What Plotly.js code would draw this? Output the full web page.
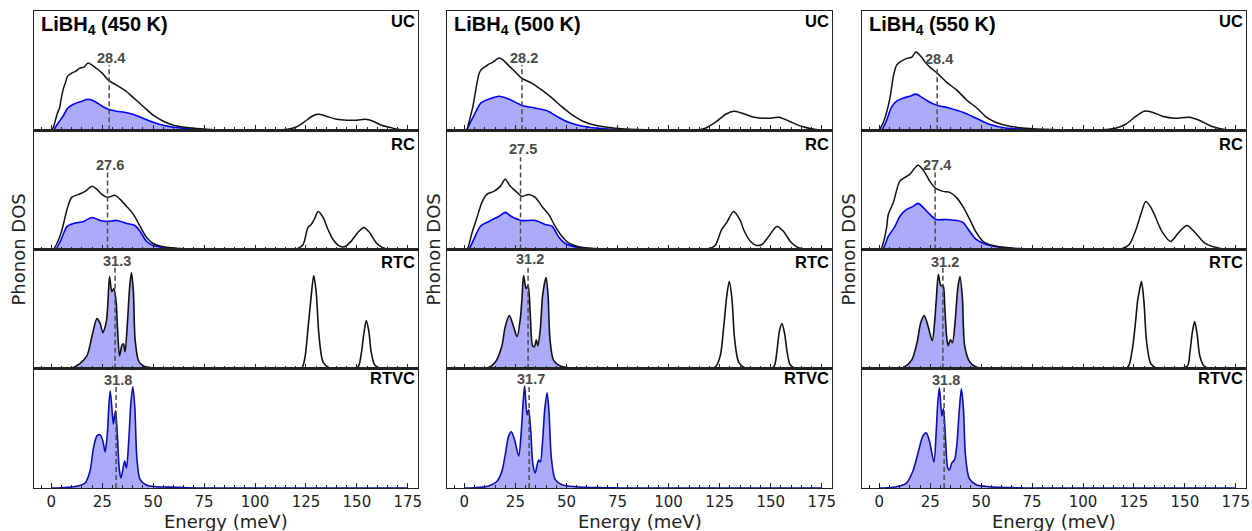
<!DOCTYPE html>
<html><head><meta charset="utf-8">
<script src="https://cdn.plot.ly/plotly-3.0.1.min.js"></script>
<style>html,body{margin:0;padding:0;background:#fff}</style>
</head><body><div id="chart" style="width:1252px;height:531px"></div>
<script>
// ---------------- DATA (Energy in meV, DOS in arbitrary units) ----------------
const temperatures = ['450', '500', '550'];
const models = ['UC', 'RC', 'RTC', 'RTVC'];
const tickVals = [0, 25, 50, 75, 100, 125, 150, 175];

// mean energies (dashed lines)
const meanUC   = [28.4, 28.2, 28.4];
const meanRC   = [27.6, 27.5, 27.4];
const meanRTC  = [31.3, 31.2, 31.2];
const meanRTVC = [31.8, 31.7, 31.8];

// ---- UC ----
const uc450_E   = [0,1,2,3,4,5,6,7,8,10,12,14,16,18,20,22,25,28,32,36,40,45,50,55,60,70,80,95,110,116,120,124,128,131,135,140,145,150,154,158,162,166,170,175];
const uc450_tot = [0,0.03,0.10,0.17,0.22,0.33,0.42,0.48,0.54,0.57,0.59,0.62,0.63,0.67,0.65,0.62,0.57,0.50,0.45,0.40,0.33,0.24,0.15,0.09,0.05,0.02,0.005,0,0,0.01,0.03,0.08,0.14,0.16,0.14,0.11,0.10,0.10,0.11,0.09,0.05,0.03,0.01,0];
const uc450_bE  = [0,1,2,4,6,8,10,12,15,18,20,22,25,28,32,36,40,45,50,55,60,70,80,95,175];
const uc450_b   = [0,0,0.03,0.09,0.15,0.22,0.25,0.27,0.29,0.31,0.30,0.28,0.24,0.21,0.19,0.18,0.16,0.12,0.08,0.05,0.03,0.01,0.003,0,0];

const uc500_E   = [0,1,2,3,4,5,6,7,8,10,12,14,17,19,21,23,25,28,33,38,43,48,53,58,64,74,85,100,115,118,123,128,132,136,142,149,154,159,165,172,176];
const uc500_tot = [0,0,0.06,0.14,0.22,0.33,0.45,0.55,0.60,0.63,0.66,0.68,0.72,0.70,0.66,0.62,0.58,0.52,0.47,0.40,0.32,0.23,0.15,0.09,0.05,0.02,0.007,0,0.005,0.02,0.08,0.16,0.19,0.17,0.13,0.12,0.13,0.09,0.04,0.007,0];
const uc500_bE  = [0,1,2,4,6,8,12,17,22,28,35,41,46,51,58,67,80,100,175];
const uc500_b   = [0,0,0.04,0.12,0.20,0.27,0.31,0.34,0.31,0.25,0.22,0.19,0.13,0.08,0.04,0.017,0.003,0,0];

const uc550_E   = [0,2,3.6,5,6,7,8.5,10,11.7,14,16,18,20.7,22.5,24.8,28.4,33,38,43,48,52.5,57,64,74,90,105,116,121,126,130,134,139,145,152,157,163,171,175];
const uc550_tot = [0,0.08,0.18,0.30,0.42,0.55,0.65,0.68,0.70,0.72,0.73,0.78,0.73,0.68,0.63,0.57,0.48,0.40,0.30,0.22,0.13,0.08,0.04,0.017,0.003,0,0.02,0.06,0.14,0.19,0.18,0.14,0.12,0.13,0.10,0.04,0.003,0];
const uc550_bE  = [0,1,2,3.6,6,8.5,11.7,15,18,21.5,24.8,28.4,34.6,41,47.6,54,62,74,90,175];
const uc550_b   = [0,0,0.03,0.10,0.23,0.29,0.32,0.34,0.36,0.32,0.28,0.25,0.22,0.18,0.12,0.06,0.023,0.007,0,0];

// ---- RC ----
const rc450_E   = [0,1,2.5,3.6,5,6.5,7.7,10,13.4,16.6,20,22.4,24.8,27.6,31.3,33.8,37,40.3,43.6,46.8,50,55,65,80,100,118,121,123.6,126,127.6,129.3,131,133.4,135.8,138.3,141.5,144,147.2,150.5,153.4,156.2,159.5,162.7,167,175];
const rc450_tot = [0,0,0.05,0.10,0.18,0.30,0.40,0.52,0.55,0.58,0.63,0.60,0.55,0.52,0.54,0.50,0.43,0.35,0.23,0.12,0.06,0.027,0.007,0,0,0,0.01,0.05,0.22,0.25,0.31,0.38,0.32,0.20,0.10,0.033,0.027,0.083,0.17,0.22,0.17,0.067,0.017,0,0];
const rc450_bE  = [0,2,4.4,6,7.7,11,15.8,20,24,27.6,32,37,41,43.6,46.8,50,56.6,66,80,175];
const rc450_b   = [0,0,0.08,0.16,0.23,0.26,0.28,0.32,0.29,0.28,0.29,0.26,0.24,0.18,0.08,0.04,0.017,0.003,0,0];

const rc500_E   = [0,1.3,3.8,6.2,8.6,11,14.4,17.6,20,22.5,25.8,28.2,31.5,34.7,38,41.3,44.5,47.8,51,56,65.7,77,100,119.6,122.8,126,128.5,131.8,135.1,136.7,140,143.2,145.7,149,153,156.3,159.5,163.6,170,175];
const rc500_tot = [0,0,0.17,0.32,0.47,0.55,0.58,0.63,0.70,0.63,0.57,0.53,0.55,0.52,0.43,0.35,0.23,0.13,0.067,0.027,0.007,0,0,0.007,0.04,0.20,0.27,0.38,0.29,0.20,0.083,0.04,0.05,0.13,0.23,0.18,0.083,0.017,0,0];
const rc500_bE  = [0,2,4.6,7.8,12,16.8,20,23,28,34.7,39.6,43,46,49.4,56,66,80,175];
const rc500_b   = [0,0,0.10,0.23,0.28,0.33,0.37,0.33,0.29,0.29,0.25,0.23,0.13,0.06,0.02,0.003,0,0];

const rc550_E   = [0,0.7,2,3.6,4.4,6.9,10,12.6,15,19,22.3,24.8,27.7,31.3,34.6,37.8,41,44.4,47.6,51,55.8,65.6,82,100,119,122.7,126,128.5,130.8,133,135,139,143,147,151,155,160,168,175];
const rc550_tot = [0,0,0.07,0.22,0.35,0.47,0.68,0.72,0.75,0.84,0.77,0.68,0.61,0.58,0.57,0.52,0.43,0.30,0.17,0.08,0.04,0.013,0,0,0.007,0.05,0.20,0.36,0.48,0.43,0.35,0.17,0.08,0.17,0.24,0.17,0.06,0.007,0];
const rc550_bE  = [0,1.6,4.4,7.7,10,13.4,16.6,19,21.5,24.8,28,33,37.8,41,44.4,47.6,52.5,62,74,85,175];
const rc550_b   = [0,0,0.13,0.23,0.33,0.40,0.43,0.46,0.42,0.35,0.30,0.30,0.29,0.27,0.18,0.10,0.05,0.017,0.003,0,0];

// ---- RTC ----
const rtc450_E   = [0,5,10,14,17.5,20,22.4,24,25.3,27,27.7,28.6,29.7,30.7,31.8,32.5,33.5,34.6,35.4,36.2,37.4,38.4,39.3,40.3,41.1,42.8,45.2,50,56.6,80,110,122.8,124.4,126,127.6,128.8,130,131.4,133.4,136.6,145,150.5,152,153.3,154.6,155.9,157,158.7,161,168,175];
const rtc450_tot = [0,0,0.007,0.05,0.13,0.33,0.50,0.45,0.36,0.47,0.63,0.92,0.77,0.80,0.67,0.40,0.13,0.23,0.25,0.17,0.47,0.80,0.96,0.77,0.30,0.08,0.027,0.007,0,0,0,0.007,0.10,0.40,0.73,0.93,0.77,0.33,0.067,0.007,0,0.017,0.13,0.33,0.48,0.37,0.17,0.04,0.007,0,0];

const rtc500_E   = [0,5,11.9,15.2,18.4,20,22,24.1,25.8,27.4,28.2,29,30.2,31.2,32.3,33.4,34.3,35.2,36,37.2,38.3,40,41,41.9,43.7,47,52.7,60.8,80,110,122.8,125.3,126.9,128.5,129.7,131,132.3,134.3,137.5,145,151.4,153,154.2,155.5,156.8,158,159.5,162,168,175];
const rtc500_tot = [0,0,0.013,0.067,0.23,0.42,0.53,0.42,0.32,0.50,0.70,0.93,0.80,0.83,0.53,0.23,0.22,0.29,0.23,0.40,0.73,0.91,0.73,0.30,0.083,0.027,0.007,0,0,0,0.017,0.13,0.40,0.73,0.87,0.70,0.30,0.067,0.007,0,0.017,0.17,0.37,0.45,0.35,0.17,0.04,0.003,0,0];

const rtc550_E   = [0,5,11.7,15.8,18.6,20.2,22,24,26,27.2,28,29,30.2,31.3,32.1,33,33.8,34.9,35.9,37.2,38.5,39.6,40.8,41.9,44.4,47.6,54,60,80,110,121.9,124,125.6,126.8,127.6,128.7,129.9,131.2,133.3,136.5,145,151.2,152.5,153.7,154.8,156.1,157.3,159.4,162.6,168,175];
const rtc550_tot = [0,0,0.013,0.083,0.27,0.45,0.53,0.42,0.28,0.48,0.70,0.94,0.83,0.83,0.63,0.33,0.23,0.29,0.26,0.47,0.80,0.92,0.70,0.23,0.067,0.017,0.003,0,0,0,0.017,0.17,0.43,0.68,0.77,0.87,0.67,0.27,0.05,0.003,0,0.027,0.17,0.37,0.47,0.33,0.13,0.027,0.003,0,0];

// ---- RTVC ----
const rtvc450_E = [0,5,12.6,16.6,19,20.7,22.4,24,25.3,26.4,27.6,28.2,28.9,30,30.5,31.5,32.5,33.3,34.1,35,36,36.9,38,39,40,41,42,43.6,46.8,51.7,61.5,73,90,175];
const rtvc450_b = [0,0.003,0.017,0.05,0.17,0.40,0.52,0.53,0.47,0.36,0.57,0.80,0.97,0.73,0.64,0.77,0.50,0.20,0.10,0.17,0.27,0.20,0.47,0.83,1.01,0.80,0.30,0.083,0.027,0.013,0.007,0,0,0];

const rtvc500_E = [0,5,11.9,16,18.4,20,21.7,23,24.6,26.6,27.9,28.7,29.5,30.7,31.5,32.5,33.6,34.7,35.6,36.4,37.2,38.3,39.3,40.5,41.4,42.6,44.5,47.8,54.3,69,77,90,175];
const rtvc500_b = [0,0.003,0.02,0.067,0.17,0.33,0.52,0.56,0.48,0.32,0.57,0.83,1.02,0.73,0.78,0.57,0.23,0.15,0.23,0.28,0.26,0.47,0.77,0.95,0.77,0.30,0.083,0.033,0.013,0.003,0,0,0];

const rtvc550_E = [0,4,8.3,13.2,16.5,19,21.4,23,24.6,26.8,27.9,28.7,29.5,30.7,31.5,32.5,33.6,34.4,35.6,36.9,38,39.3,40.3,41.3,42.3,44.2,47.5,54,67,77,90,175];
const rtvc550_b = [0,0.003,0.013,0.047,0.17,0.35,0.52,0.55,0.47,0.26,0.55,0.85,1.00,0.72,0.79,0.49,0.20,0.18,0.25,0.28,0.42,0.79,0.99,0.79,0.32,0.093,0.033,0.013,0.003,0,0,0];

// ---------------- LAYOUT CONFIG ----------------
// heights (data units) of the dashed line top and of its label, per model row / temperature column
const dashTop  = [[0.65,0.65,0.63],[0.77,0.92,0.78],[1.03,1.03,1.02],[1.02,1.02,1.00]];
const labelTop = [[0.72,0.72,0.71],[0.84,1.00,0.84],[1.08,1.10,1.07],[1.08,1.09,1.08]];
const modelLabelOffsetPx = [10, 13.5, 12.5, 9.5];

const panels = {
  UC:   [[uc450_E,uc450_tot,uc450_bE,uc450_b],[uc500_E,uc500_tot,uc500_bE,uc500_b],[uc550_E,uc550_tot,uc550_bE,uc550_b]],
  RC:   [[rc450_E,rc450_tot,rc450_bE,rc450_b],[rc500_E,rc500_tot,rc500_bE,rc500_b],[rc550_E,rc550_tot,rc550_bE,rc550_b]],
  RTC:  [[rtc450_E,rtc450_tot],[rtc500_E,rtc500_tot],[rtc550_E,rtc550_tot]],
  RTVC: [[rtvc450_E,rtvc450_b],[rtvc500_E,rtvc500_b],[rtvc550_E,rtvc550_b]]
};
const means = {UC: meanUC, RC: meanRC, RTC: meanRTC, RTVC: meanRTVC};

const W = 1252, H = 531;
const M = {l: 34, r: 6, t: 11, b: 43};
const plotW = W - M.l - M.r, plotH = H - M.t - M.b;
const colPx = [[34,418],[447,832],[862,1246]];
const colDomains = colPx.map(p => [(p[0]-M.l)/plotW, (p[1]-M.l)/plotW]);
const rowH = plotH / 4;

const BLACK = '#111';
const BLUE = '#0000ff';
const DARKBLUE = '#0a0fb0';
const FILL = 'rgba(10,10,240,0.34)';
const DASHC = '#4a4a4a';
const FRAME = '#222';

const traces = [];
const layout = {
  width: W, height: H, margin: M, showlegend: false,
  paper_bgcolor: '#fff', plot_bgcolor: '#fff',
  annotations: []
};

models.forEach((model, r) => {
  temperatures.forEach((T, c) => {
    const i = r*3 + c + 1;
    const xa = i === 1 ? 'x' : 'x' + i;
    const ya = i === 1 ? 'y' : 'y' + i;
    const xk = i === 1 ? 'xaxis' : 'xaxis' + i;
    const yk = i === 1 ? 'yaxis' : 'yaxis' + i;
    layout[xk] = {
      domain: colDomains[c], range: [-8.5, 180], anchor: ya,
      showline: true, mirror: true, linecolor: FRAME, linewidth: 1.4,
      ticks: 'inside', ticklen: 5, tickwidth: 1, tickcolor: FRAME,
      tickmode: 'array', tickvals: tickVals, ticktext: tickVals.map(String),
      showticklabels: r === 3,
      tickfont: {family: 'DejaVu Sans', size: 15, color: '#222'},
      showgrid: false, zeroline: false,
      minor: {ticks: 'inside', ticklen: 3, dtick: 5, tick0: 0, tickcolor: FRAME, tickwidth: 1, showgrid: false}
    };
    layout[yk] = {
      domain: [1 - (r+1)/4, 1 - r/4], range: [0, 1.19], anchor: xa,
      showline: true, mirror: true, linecolor: FRAME, linewidth: 1.4,
      ticks: '', showticklabels: false, showgrid: false, zeroline: false
    };
    const d = panels[model][c];
    const base = {xaxis: xa, yaxis: ya, mode: 'lines', hoverinfo: 'skip', type: 'scatter'};
    if (model === 'RTVC') {
      traces.push(Object.assign({}, base, {x: d[0], y: d[1], fill: 'tozeroy', fillcolor: FILL,
        line: {color: DARKBLUE, width: 1.6, shape: 'spline', smoothing: 0.8}}));
    } else if (model === 'RTC') {
      const bx = [], by = [];
      d[0].forEach((e, k) => { if (e <= 60) { bx.push(e); by.push(d[1][k]); } });
      traces.push(Object.assign({}, base, {x: bx, y: by, fill: 'tozeroy', fillcolor: FILL,
        line: {color: 'rgba(0,0,0,0)', width: 0, shape: 'spline', smoothing: 0.8}}));
      traces.push(Object.assign({}, base, {x: d[0], y: d[1],
        line: {color: BLACK, width: 1.6, shape: 'spline', smoothing: 0.8}}));
    } else {
      traces.push(Object.assign({}, base, {x: d[2], y: d[3], fill: 'tozeroy', fillcolor: FILL,
        line: {color: BLUE, width: 1.6, shape: 'spline', smoothing: 0.8}}));
      traces.push(Object.assign({}, base, {x: d[0], y: d[1],
        line: {color: BLACK, width: 1.5, shape: 'spline', smoothing: 0.8}}));
    }
    const m = means[model][c];
    traces.push(Object.assign({}, base, {x: [m, m], y: [0, dashTop[r][c]],
      line: {color: DASHC, width: 1.5, dash: '5px,3px'}}));
    layout.annotations.push({xref: xa, yref: ya, x: m + 1, y: labelTop[r][c], text: '<b>' + m.toFixed(1) + '</b>',
      showarrow: false, font: {family: 'Liberation Sans, Arial', size: 14.5, color: DASHC}, xanchor: 'center', yanchor: 'middle'});
    layout.annotations.push({xref: xa + ' domain', yref: ya + ' domain', x: 1, xshift: -1, xanchor: 'right',
      y: 1 - modelLabelOffsetPx[r]/rowH, yanchor: 'middle', text: '<b>' + model + '</b>', showarrow: false,
      font: {family: 'Liberation Sans, Arial', size: 16.5, color: '#000'}});
    if (r === 0) {
      layout.annotations.push({xref: xa + ' domain', yref: ya + ' domain', x: 0.012, xanchor: 'left',
        y: 1 - 14/rowH, yanchor: 'middle', text: '<b>LiBH<sub>4</sub> (' + T + ' K)</b>', showarrow: false,
        font: {family: 'Liberation Sans, Arial', size: 20, color: '#000'}});
    }
  });
});

// column-wide axis titles
const yLabelPx = [18, 433, 848];
colDomains.forEach((dom, c) => {
  layout.annotations.push({xref: 'paper', yref: 'paper', x: (yLabelPx[c]-M.l)/plotW, y: 0.5, textangle: -90,
    text: 'Phonon DOS', showarrow: false, xanchor: 'center', yanchor: 'middle',
    font: {family: 'DejaVu Sans', size: 18, color: '#222'}});
  layout.annotations.push({xref: 'paper', yref: 'paper', x: (dom[0]+dom[1])/2, y: -(521-(H-M.b))/plotH,
    text: 'Energy (meV)', showarrow: false, xanchor: 'center', yanchor: 'middle',
    font: {family: 'DejaVu Sans', size: 18, color: '#222'}});
});

Plotly.newPlot('chart', traces, layout, {staticPlot: true, displayModeBar: false});
</script></body></html>
